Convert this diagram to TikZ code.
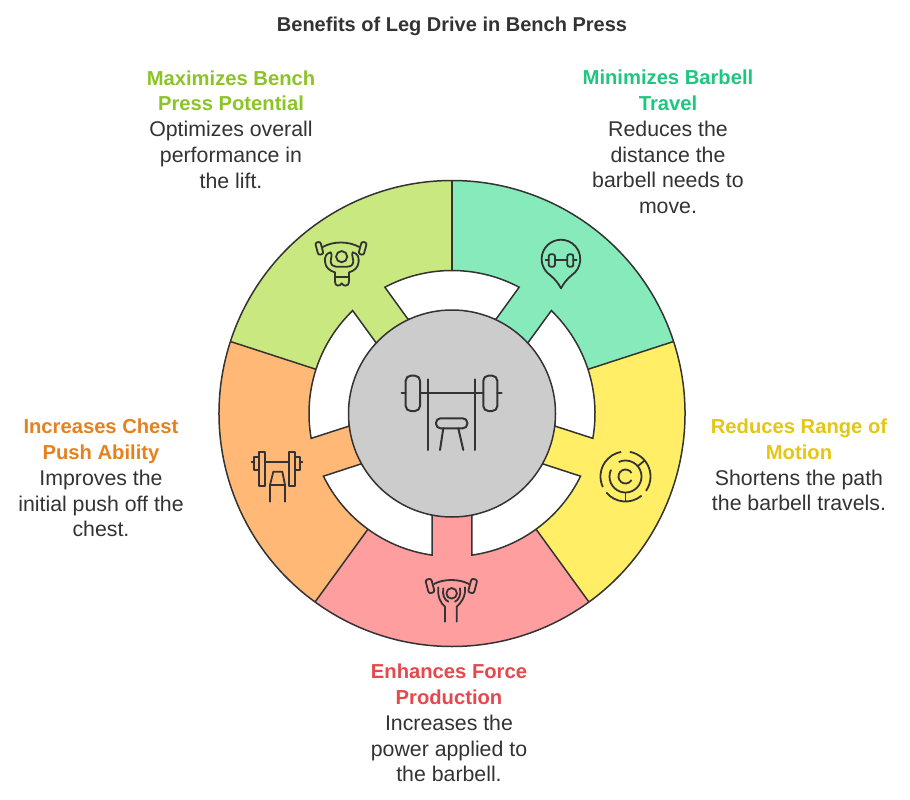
\documentclass[tikz,border=0pt]{standalone}
\usepackage{fontspec}
\setmainfont{Liberation Sans}
\definecolor{ink}{HTML}{333333}
\definecolor{fgreen}{HTML}{C9E87F}
\definecolor{fteal}{HTML}{86EABA}
\definecolor{fyellow}{HTML}{FFEE66}
\definecolor{fred}{HTML}{FF9E9E}
\definecolor{forange}{HTML}{FFB875}
\definecolor{fgray}{HTML}{CCCCCC}
\definecolor{tgreen}{HTML}{8CC428}
\definecolor{tteal}{HTML}{1EC77F}
\definecolor{tyellow}{HTML}{E3C714}
\definecolor{tred}{HTML}{E5484D}
\definecolor{torange}{HTML}{E5811F}
\tikzset{
  label/.style={align=center,inner sep=0pt,text=ink,font=\fontsize{21.3}{25.8}\selectfont},
  rim/.style={draw=ink,line width=1.5pt},
  icon/.style={draw=ink,line width=1.8pt,line cap=round,line join=round},
  iconbox/.style={x=.33333pt,y=-.33333pt},
}
\newcommand{\hd}[2]{{\fontsize{20.2}{25.8}\selectfont\bfseries\color{#1}#2}}
\newcommand{\sector}[3]{\fill[#1] (0,0) -- (#2:233pt) arc[start angle=#2,end angle=#3,radius=233pt] -- cycle;
  \draw[rim] (#2:233pt) arc[start angle=#2,end angle=#3,radius=233pt];}
\newcommand{\gapat}[1]{\pgfmathsetmacro{\ga}{#1+28}\pgfmathsetmacro{\gb}{#1-28}\pgfmathsetmacro{\gc}{#1+25}\pgfmathsetmacro{\gd}{#1-25}
  \filldraw[rim,fill=white] (\gc:104pt) -- (\ga:143pt) arc[start angle=\ga,end angle=\gb,radius=143pt] -- (\gd:104pt) -- cycle;}
\begin{document}
\begin{tikzpicture}[x=1pt,y=-1pt]
\useasboundingbox (0,0) rectangle (910,800);
\fill[white] (0,0) rectangle (910,800);
\node[inner sep=0pt,text=ink,font=\fontsize{20}{24}\selectfont\bfseries] (title) at (452,26) {Benefits of Leg Drive in Bench Press};

\begin{scope}[shift={(452,413.5)},x=1pt,y=1pt]
  \sector{fgreen}{90}{162}
  \sector{fteal}{18}{90}
  \sector{fyellow}{-54}{18}
  \sector{fred}{-126}{-54}
  \sector{forange}{162}{234}
  \foreach \c in {90,18,-54,-126,162} {\gapat{\c}}
  \foreach \b in {90,18,-54,-126,162} {\draw[rim] (\b:143pt) -- (\b:233pt);}
  \filldraw[rim,fill=fgray] (0,0) circle[radius=103.5pt];
\end{scope}

% centre icon
\draw[icon,line width=2pt,rounded corners=5pt] (405.7,375.7) rectangle (420,411);
\draw[icon,line width=2pt,rounded corners=5pt] (483.3,375.7) rectangle (497.3,411);
\draw[icon,line width=2pt] (401.7,393.3) -- (405.7,393.3) (420,393.3) -- (483.3,393.3) (497.3,393.3) -- (501.7,393.3);
\draw[icon,line width=2pt] (427.7,379.3) -- (427.7,450) (475,379.3) -- (475,450);
\draw[icon,line width=2pt,rounded corners=4.5pt] (436,418.3) rectangle (467.3,428.3);
\draw[icon,line width=2pt] (443.3,428.3) -- (440,450) (458.3,428.3) -- (463.3,450);

% green icon
\begin{scope}[shift={(310,235)},iconbox]
  \draw[icon,rounded corners=2pt,rotate around={15:(28,40)}] (20,21) rectangle (36,59);
  \draw[icon,rounded corners=2pt,rotate around={-15:(158,40)}] (150,21) rectangle (166,59);
  \draw[icon] (38,36) .. controls (70,18) and (115,18) .. (148,36);
  \draw[icon] (95,65) circle[radius=5.6pt];
  \draw[icon] (62,52) .. controls (48,55) and (44,65) .. (45,80) .. controls (46,98) and (60,108) .. (75,112) -- (75,140) .. controls (75,155) and (90,155) .. (95,145) .. controls (100,155) and (117,155) .. (117,140) -- (117,112) .. controls (132,108) and (145,98) .. (146,80) .. controls (147,65) and (143,55) .. (128,52);
  \draw[icon] (62,52) .. controls (68,60) and (62,70) .. (62,78) .. controls (62,90) and (70,95) .. (78,95) -- (112,95) .. controls (122,95) and (130,90) .. (130,78) .. controls (130,70) and (124,60) .. (128,52);
  \draw[icon] (75,125) -- (117,125);
\end{scope}

% teal icon
\begin{scope}[shift={(530,235)},iconbox]
  \draw[icon] (93,160) .. controls (85,145) and (75,132) .. (60,120) arc[start angle=235.5,end angle=-55.5,radius=19.33pt] .. controls (111,132) and (101,145) .. (93,160);
  \draw[icon,rounded corners=2pt] (56,58) rectangle (75,95);
  \draw[icon,rounded corners=2pt] (112,58) rectangle (130,95);
  \draw[icon] (75,75) -- (112,75) (47,75) -- (56,75) (130,75) -- (140,75);
\end{scope}

% yellow icon
\begin{scope}[shift={(625.5,476.5)},x=1pt,y=1pt,icon/.append style={line cap=butt}]
  \draw[icon] (80:25pt) arc[start angle=80,end angle=-35,radius=25pt];
  \draw[icon] (-50:25pt) arc[start angle=-50,end angle=-140,radius=25pt];
  \draw[icon] (205:25pt) arc[start angle=205,end angle=100,radius=25pt];
  \draw[icon] (115:16pt) arc[start angle=115,end angle=-205,radius=16pt];
  \draw[icon] (30:7pt) arc[start angle=30,end angle=330,radius=7pt];
  \draw[icon] (-90:16pt) -- (-90:25pt);
  \draw[icon] (40:16pt) -- (40:25pt);
\end{scope}

% orange icon
\begin{scope}[shift={(245,445)},iconbox]
  \draw[icon] (42,22) rectangle (60,122);
  \draw[icon] (133,22) rectangle (150,122);
  \draw[icon] (42,35) -- (28,35) -- (28,75) -- (42,75);
  \draw[icon] (150,35) -- (165,35) -- (165,75) -- (150,75);
  \draw[icon] (20,50) -- (28,50) (60,50) -- (133,50) (165,50) -- (172,50);
  \draw[icon] (75,170) -- (75,120) -- (85,80) -- (112,80) -- (120,120) -- (120,170);
  \draw[icon] (75,120) -- (120,120);
\end{scope}

% red icon
\begin{scope}[shift={(420,570)},iconbox]
  \draw[icon,rounded corners=2pt,rotate around={15:(30,48)}] (21,27) rectangle (39,69);
  \draw[icon,rounded corners=2pt,rotate around={-15:(158,48)}] (149,27) rectangle (167,69);
  \draw[icon] (42,42) .. controls (70,26) and (118,26) .. (147,42);
  \draw[icon] (95,70) circle[radius=5.3pt];
  \draw[icon] (55,52) .. controls (52,80) and (62,100) .. (75,110) -- (75,155);
  \draw[icon] (135,52) .. controls (138,80) and (122,100) .. (110,110) -- (110,155);
  \draw[icon] (70,55) .. controls (66,75) and (74,90) .. (85,95);
  \draw[icon] (120,55) .. controls (124,75) and (116,90) .. (105,95);
\end{scope}

\node[label] (maxi) at (231,129.5) {\hd{tgreen}{Maximizes Bench}\\\hd{tgreen}{Press Potential}\\Optimizes overall\\performance in\\the lift.};
\node[label] (mini) at (668,142) {\hd{tteal}{Minimizes Barbell}\\\hd{tteal}{Travel}\\Reduces the\\distance the\\barbell needs to\\move.};
\node[label] (redu) at (799,465) {\hd{tyellow}{Reduces Range of}\\\hd{tyellow}{Motion}\\Shortens the path\\the barbell travels.};
\node[label] (incr) at (101,478) {\hd{torange}{Increases Chest}\\\hd{torange}{Push Ability}\\Improves the\\initial push off the\\chest.};
\node[label] (enha) at (449,723) {\hd{tred}{Enhances Force}\\\hd{tred}{Production}\\Increases the\\power applied to\\the barbell.};
\end{tikzpicture}
\end{document}
